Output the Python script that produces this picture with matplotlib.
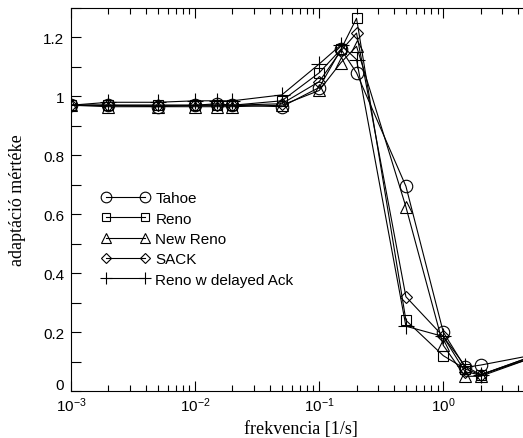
import matplotlib
matplotlib.use("Agg")
import matplotlib.pyplot as plt
from matplotlib.ticker import LogLocator, MultipleLocator, FuncFormatter, LogFormatterSciNotation

plt.rcParams['font.family'] = ['Liberation Sans', 'DejaVu Sans']
plt.rcParams['mathtext.fontset'] = 'custom'
plt.rcParams['mathtext.rm'] = 'Liberation Sans'
plt.rcParams['mathtext.it'] = 'Liberation Sans'

# frequency points [1/s]
freq = [0.001, 0.002, 0.005, 0.01, 0.015, 0.02, 0.05, 0.1, 0.15, 0.2, 0.5, 1.0, 1.5, 2.0, 5.0]

tahoe = [0.97, 0.97, 0.965, 0.97, 0.975, 0.97, 0.965, 1.03, 1.16, 1.08, 0.695, 0.20, 0.08, 0.088, 0.12]
reno = [0.97, 0.97, 0.97, 0.97, 0.97, 0.97, 0.985, 1.08, 1.16, 1.265, 0.24, 0.12, 0.075, 0.055, 0.115]
new_reno = [0.97, 0.965, 0.965, 0.965, 0.965, 0.965, 0.97, 1.02, 1.115, 1.17, 0.625, 0.155, 0.05, 0.05, 0.11]
sack = [0.97, 0.97, 0.97, 0.97, 0.97, 0.97, 0.975, 1.05, 1.155, 1.215, 0.32, 0.185, 0.065, 0.055, 0.115]
reno_delack = [0.97, 0.98, 0.98, 0.985, 0.985, 0.985, 1.005, 1.11, 1.175, 1.125, 0.22, 0.185, 0.085, 0.055, 0.11]

series = [
    ("Tahoe", tahoe, 'o', 9),
    ("Reno", reno, 's', 7),
    ("New Reno", new_reno, '^', 9),
    ("SACK", sack, 'D', 6),
    ("Reno w delayed Ack", reno_delack, '+', 11),
]

W, H = 523, 439
fig = plt.figure(figsize=(W / 100, H / 100), dpi=100)
ax = fig.add_axes([71 / W, 1 - 392 / H, (530 - 71) / W, (392 - 9) / H])

for name, vals, mk, ms in series:
    ax.plot(freq, vals, color='black', linewidth=0.8, marker=mk, markersize=ms,
            markerfacecolor='none', markeredgecolor='black', markeredgewidth=0.8,
            label=name)

ax.set_xscale('log')
ax.set_xlim(1e-3, 5)
ax.set_ylim(0, 1.3)

ax.xaxis.set_major_locator(LogLocator(base=10, numticks=10))
ax.xaxis.set_minor_locator(LogLocator(base=10, subs=range(2, 10), numticks=20))
ax.xaxis.set_major_formatter(LogFormatterSciNotation())
ax.yaxis.set_major_locator(MultipleLocator(0.2))
ax.yaxis.set_minor_locator(MultipleLocator(0.1))
# the "0" label is drawn separately, a bit higher, so it clears 10^-3
ax.yaxis.set_major_formatter(FuncFormatter(lambda v, p: '' if abs(v) < 1e-9 else f'{v:g}'))

ax.tick_params(which='both', direction='in', top=True, right=False, labelsize=11)
ax.tick_params(which='major', length=7, width=0.8)
ax.tick_params(which='minor', length=4, width=0.8)
ax.yaxis.set_tick_params(which='minor', length=7)
ax.tick_params(axis='y', pad=5)
for s in ax.spines.values():
    s.set_linewidth(0.8)

ax.annotate('0', xy=(0, 0), xycoords=ax.get_yaxis_transform(),
            xytext=(-5, -1), textcoords='offset points',
            ha='right', va='bottom', fontsize=11)

ax.set_xlabel("frekvencia [1/s]", family='Liberation Serif', fontsize=13, labelpad=4)
ax.set_ylabel("adaptáció mértéke", family='Liberation Serif', fontsize=13, labelpad=12)

leg = ax.legend(loc='upper left', bbox_to_anchor=(95 / W, 1 - 186 / H),
                bbox_transform=fig.transFigure, frameon=False, fontsize=11,
                numpoints=2, markerscale=0.85, handlelength=3.2, handletextpad=0.35,
                labelspacing=0.42, borderaxespad=0)

fig.savefig("out.png", dpi=100)
